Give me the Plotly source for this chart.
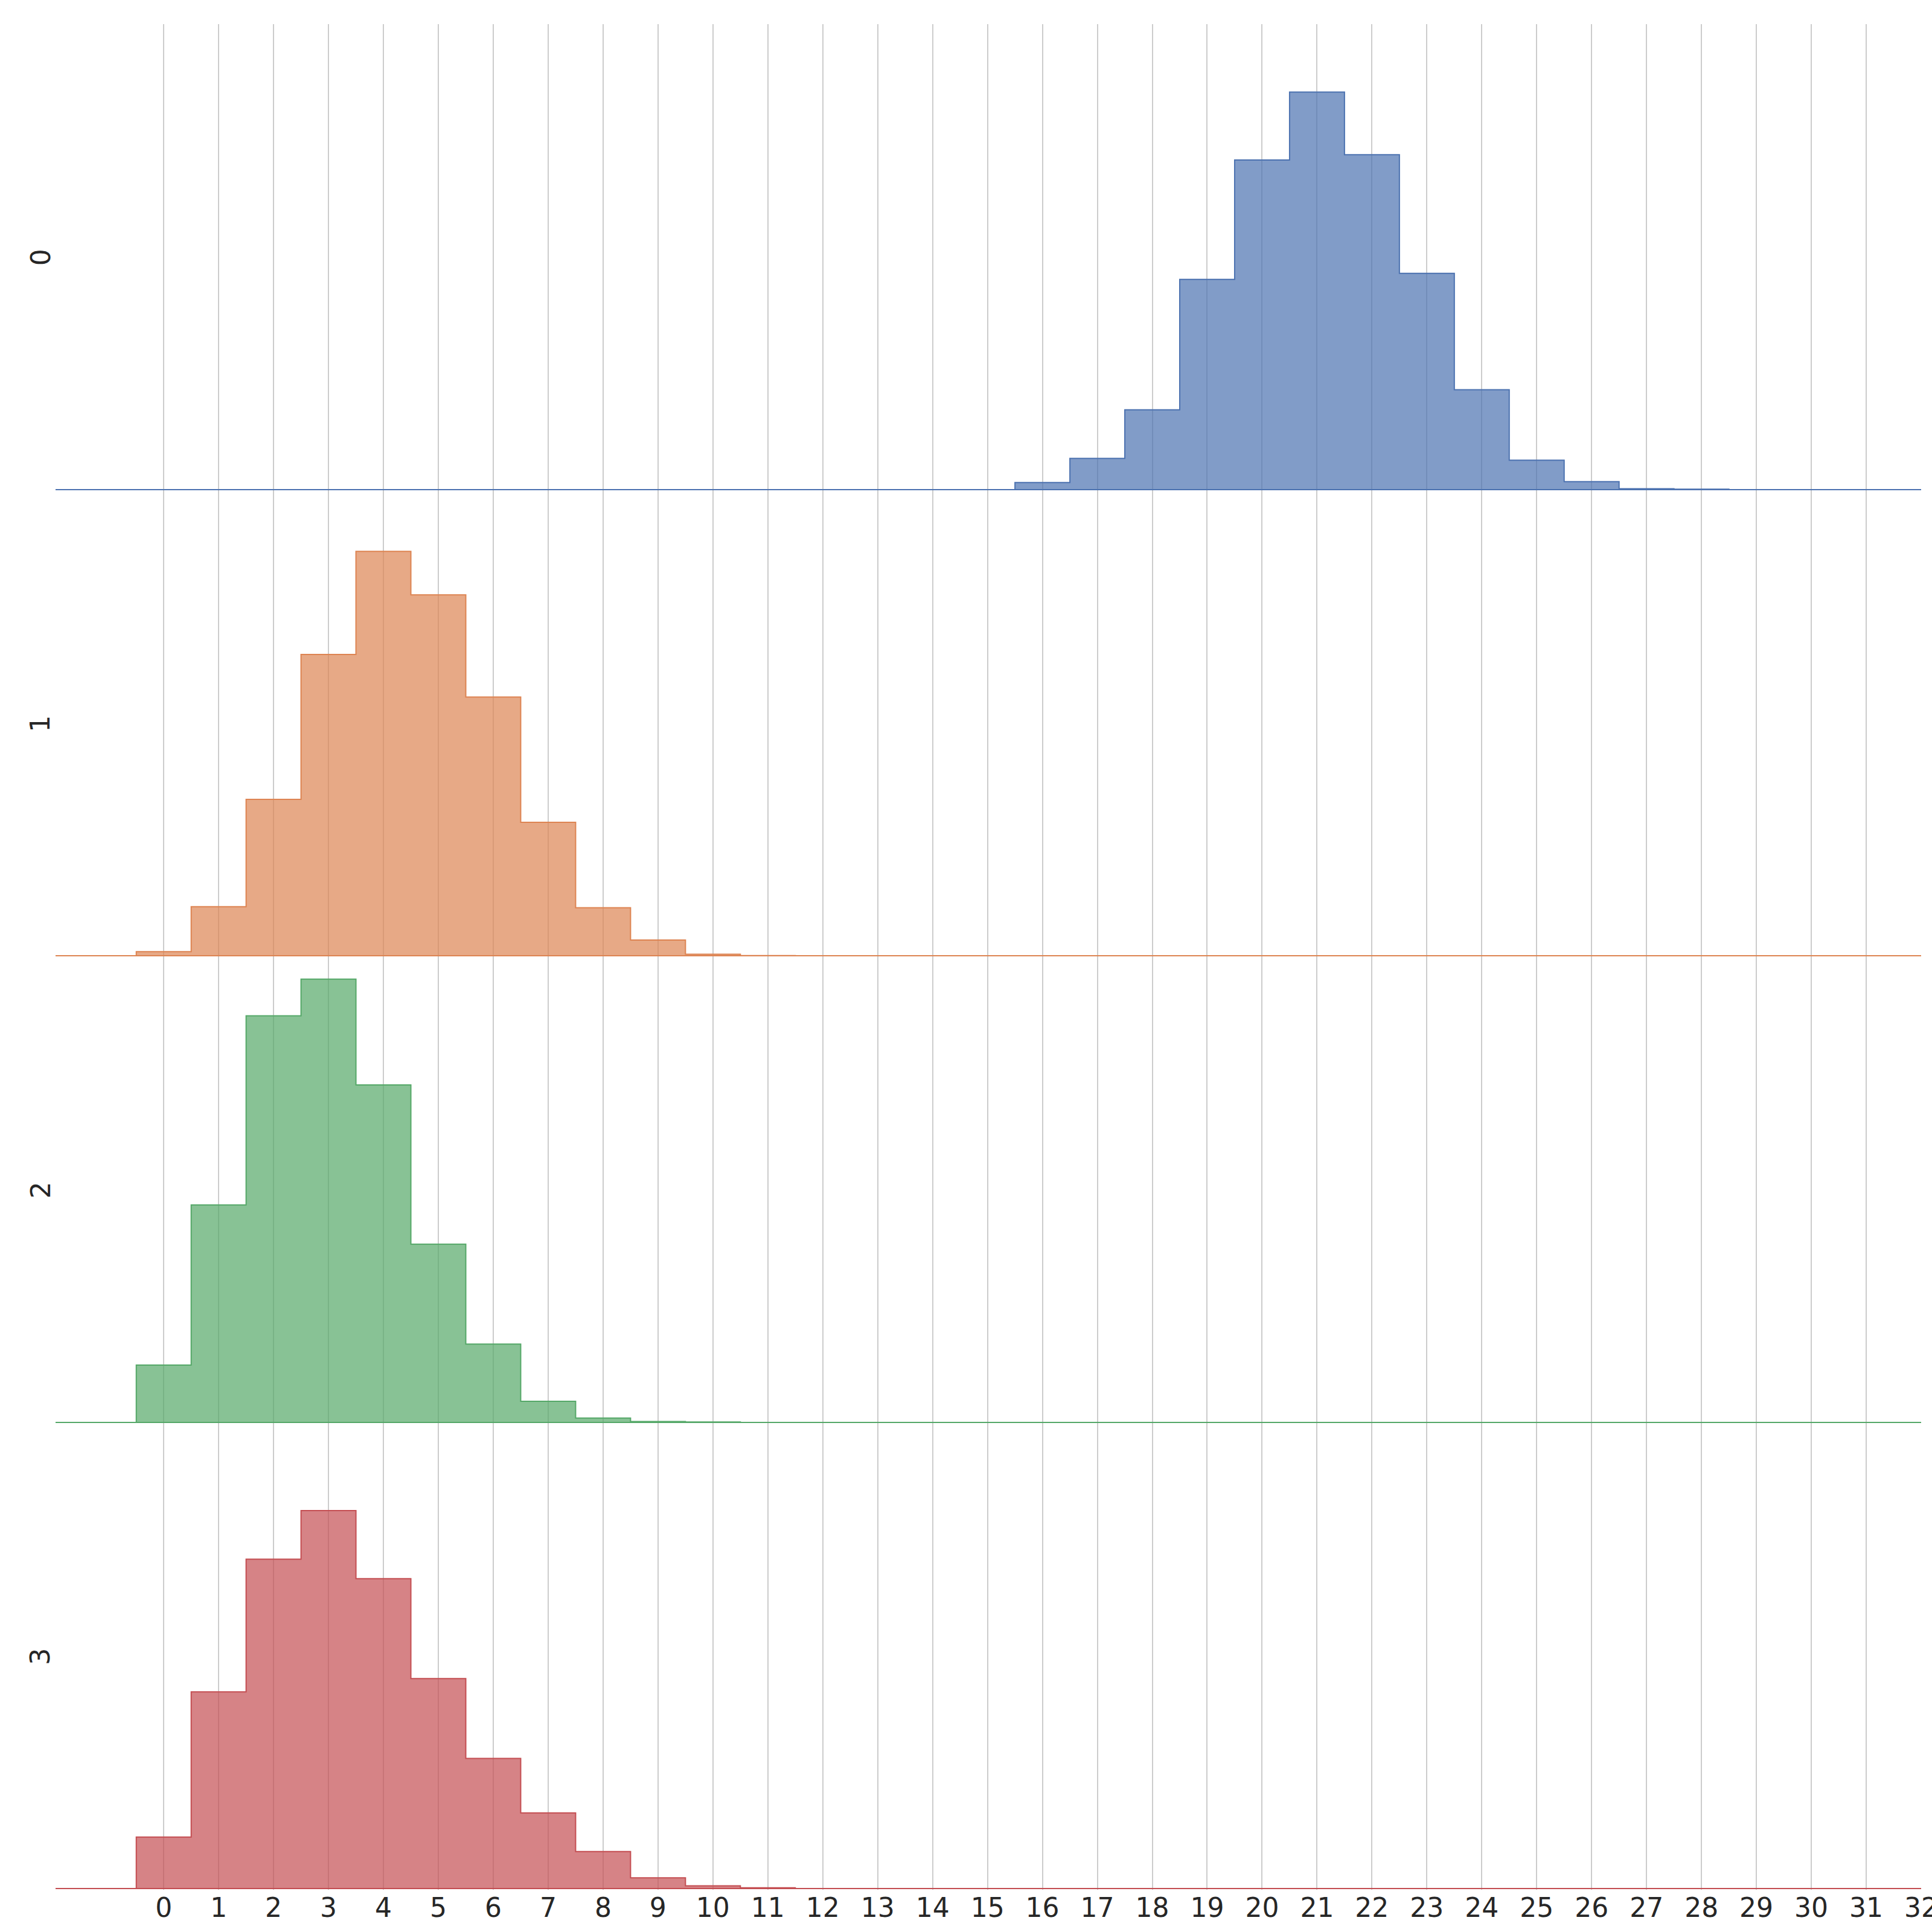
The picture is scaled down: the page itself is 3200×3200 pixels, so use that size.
#!/usr/bin/env python3
"""
plot.py -- Stacked step histograms (ridge style), one panel per group.
"""

import plotly.graph_objects as go
from plotly.subplots import make_subplots

# -- Data (probability per integer bin) -------------------------------------
group_labels = ["0", "1", "2", "3"]

bins_0 = list(range(16, 29))
probs_0 = [0.0040, 0.0179, 0.0459, 0.1209, 0.1896, 0.2287, 0.1927,
           0.1244, 0.0574, 0.0169, 0.0045, 0.0004, 0.0002]

bins_1 = list(range(0, 12))
probs_1 = [0.0024, 0.0283, 0.0901, 0.1735, 0.2328, 0.2078, 0.1490,
           0.0769, 0.0277, 0.0091, 0.0010, 0.0002]

bins_2 = list(range(0, 11))
probs_2 = [0.0329, 0.1251, 0.2339, 0.2550, 0.1941, 0.1025, 0.0450,
           0.0121, 0.0024, 0.0004, 0.0002]

bins_3 = list(range(0, 12))
probs_3 = [0.0297, 0.1133, 0.1896, 0.2176, 0.1784, 0.1209, 0.0750,
           0.0436, 0.0214, 0.0063, 0.0017, 0.0005]

x_ticks = list(range(0, 33))
x_tick_labels = [str(t) for t in x_ticks]

# -- Style --------------------------------------------------------------------
COLORS = ["#4C72B0", "#DD8452", "#55A868", "#C44E52"]
FILL_ALPHA = 0.7
FONT = "DejaVu Sans, Arial, sans-serif"
TEXT = "#262626"
GRID = "#cccccc"
X_RANGE = [-1.97, 32.0]
Y_RANGE = [-0.0006, 0.2678]


def hex_to_rgba(hex_color: str, alpha: float) -> str:
    h = hex_color.lstrip("#")
    r, g, b = (int(h[i:i + 2], 16) for i in (0, 2, 4))
    return f"rgba({r},{g},{b},{alpha})"


def step_outline(bins: list[int], probs: list[float]):
    """Turn bin centres + heights into an 'hv' step path closed to zero."""
    xs = [bins[0] - 0.5]
    ys = [0.0]
    for b, p in zip(bins, probs):
        xs.append(b - 0.5)
        ys.append(p)
    xs += [bins[-1] + 0.5, bins[-1] + 0.5]
    ys += [probs[-1], 0.0]
    return xs, ys


series = [(bins_0, probs_0), (bins_1, probs_1), (bins_2, probs_2), (bins_3, probs_3)]

fig = make_subplots(rows=4, cols=1, shared_xaxes=True, vertical_spacing=0)

for i, (bins, probs) in enumerate(series):
    row = i + 1
    xs, ys = step_outline(bins, probs)
    fig.add_trace(go.Scatter(
        x=xs, y=ys, mode="lines", line_shape="hv",
        line=dict(color=COLORS[i], width=2),
        fill="tozeroy", fillcolor=hex_to_rgba(COLORS[i], FILL_ALPHA),
        showlegend=False, hoverinfo="skip",
    ), row=row, col=1)

    yref = "y" if row == 1 else f"y{row}"

    # group label on the left, rotated like a y label
    fig.add_annotation(
        text=group_labels[i], xref="paper", x=-0.0081, xanchor="center",
        yref=f"{yref} domain", y=0.5, yanchor="middle", textangle=-90,
        showarrow=False, font=dict(family=FONT, size=44, color=TEXT),
    )

    # the coloured baseline is the panel's zero line, clipped to the plot area
    fig.update_yaxes(range=Y_RANGE, showgrid=False,
                     zeroline=True, zerolinecolor=COLORS[i], zerolinewidth=1.5,
                     showticklabels=False, showline=False, automargin=False,
                     row=row, col=1)
    # automargin off: the clipped "32" label must not shrink the plot area
    fig.update_xaxes(range=X_RANGE, tickvals=x_ticks, ticktext=x_tick_labels,
                     showgrid=True, gridcolor=GRID, gridwidth=1.5,
                     zeroline=False, showline=False, ticks="",
                     showticklabels=(row == 4), ticklabeloverflow="allow",
                     automargin=False,
                     tickfont=dict(family=FONT, size=44, color=TEXT),
                     row=row, col=1)

fig.update_layout(
    width=3200, height=3200,
    margin=dict(l=92, r=18, t=40, b=70),
    paper_bgcolor="white", plot_bgcolor="white",
    font=dict(family=FONT, size=44, color=TEXT),
)

# drop the default body margin so the figure sits at the page origin
PAGE_FIX = (
    "document.body.style.margin='0';"
    "document.body.style.overflow='hidden';"
    "document.documentElement.style.overflow='hidden';"
)

fig.write_html("out.html", post_script=PAGE_FIX,
               config={"displayModeBar": False})
